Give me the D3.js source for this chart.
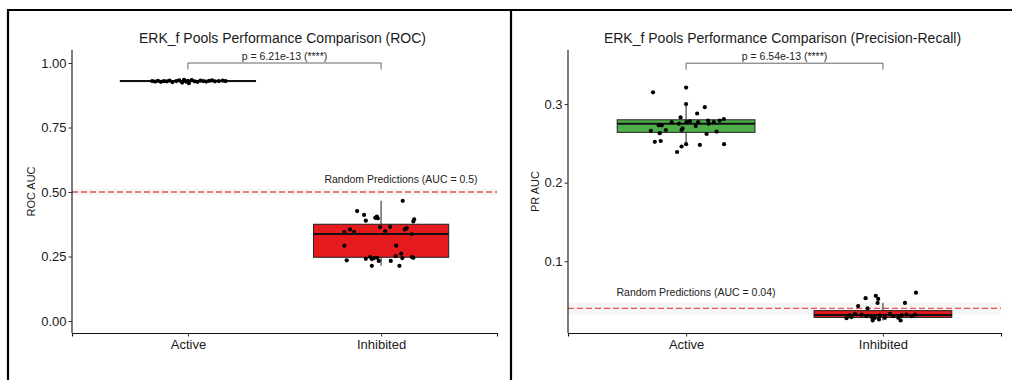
<!DOCTYPE html>
<html>
<head>
<meta charset="utf-8">
<script src="https://cdn.jsdelivr.net/npm/d3@7.9.0/dist/d3.min.js"></script>
<style>
  body { margin: 0; background: #fff; }
  svg { display: block; font-family: "Liberation Sans", Arial, sans-serif; }
</style>
</head>
<body>
<svg id="chart" width="1012" height="380"></svg>
<script>
const groups = ['Active', 'Inhibited'];
const groupColors = ['#4DAF4A', '#E41A1C'];

// ROC panel values
const rocTicks = [0, 0.25, 0.5, 0.75, 1];
const rocQ1 = [0.928, 0.247];
const rocMedian = [0.930, 0.337];
const rocQ3 = [0.932, 0.375];
const rocWhiskerLow = [0.922, 0.214];
const rocWhiskerHigh = [0.935, 0.466];
// [value, jitter offset in category units]
const rocActivePoints = [
  [0.930, -0.185], [0.928, -0.17], [0.931, -0.155], [0.927, -0.14], [0.930, -0.125],
  [0.929, -0.11], [0.932, -0.095], [0.926, -0.08], [0.930, -0.06], [0.933, -0.045],
  [0.924, -0.03], [0.935, -0.02], [0.928, -0.01], [0.931, 0.0], [0.922, 0.005],
  [0.934, 0.02], [0.929, 0.035], [0.927, 0.05], [0.932, 0.065], [0.930, 0.08],
  [0.928, 0.095], [0.931, 0.11], [0.933, 0.125], [0.929, 0.14], [0.930, 0.16],
  [0.932, 0.18], [0.930, 0.195]
];
const rocInhibitedPoints = [
  [0.426, -0.124], [0.411, -0.088], [0.389, -0.079], [0.400, -0.030], [0.405, -0.022],
  [0.398, -0.017], [0.466, 0.112], [0.394, 0.171], [0.386, 0.167], [0.345, -0.190],
  [0.355, -0.161], [0.345, -0.140], [0.364, -0.005], [0.348, 0.021], [0.365, 0.047],
  [0.355, 0.123], [0.360, 0.133], [0.337, 0.159], [0.292, -0.190], [0.292, 0.078],
  [0.235, -0.178], [0.241, -0.079], [0.248, -0.057], [0.240, -0.048], [0.244, -0.036],
  [0.245, -0.019], [0.233, -0.012], [0.214, -0.048], [0.233, 0.050], [0.252, 0.076],
  [0.261, 0.104], [0.244, 0.110], [0.214, 0.095], [0.248, 0.159], [0.245, 0.167]
];

// PR panel values
const prTicks = [0.1, 0.2, 0.3];
const prQ1 = [0.264, 0.0285];
const prMedian = [0.275, 0.0315];
const prQ3 = [0.280, 0.0372];
const prWhiskerLow = [0.248, 0.0247];
const prWhiskerHigh = [0.300, 0.047];
const prActivePoints = [
  [0.315, -0.168], [0.321, 0.0], [0.300, 0.0], [0.296, 0.095], [0.288, 0.056],
  [0.283, -0.028], [0.277, -0.073], [0.275, -0.036], [0.277, 0.002], [0.278, 0.019],
  [0.272, 0.049], [0.277, 0.061], [0.279, 0.112], [0.275, 0.115], [0.277, 0.141],
  [0.279, 0.171], [0.281, 0.192], [0.273, -0.139], [0.273, -0.124], [0.267, -0.103],
  [0.266, -0.179], [0.263, -0.134], [0.267, -0.023], [0.269, -0.018], [0.262, 0.104],
  [0.265, 0.155], [0.252, -0.159], [0.253, -0.129], [0.246, -0.023], [0.249, 0.0],
  [0.239, -0.046], [0.248, 0.070], [0.249, 0.193]
];
const prInhibitedPoints = [
  [0.053, -0.088], [0.056, -0.036], [0.052, -0.024], [0.047, -0.027], [0.043, -0.126],
  [0.040, -0.078], [0.047, 0.112], [0.060, 0.168], [0.0276, -0.185], [0.031, -0.170],
  [0.029, -0.160], [0.033, -0.142], [0.032, -0.108], [0.030, -0.083], [0.029, -0.057],
  [0.028, -0.041], [0.031, -0.015], [0.028, 0.010], [0.033, 0.036], [0.030, 0.052],
  [0.028, 0.078], [0.031, 0.095], [0.032, 0.120], [0.030, 0.146], [0.032, 0.163],
  [0.0247, -0.052], [0.0247, 0.090], [0.026, -0.020]
];

const svg = d3.select('#chart');

const panels = [
  {
    title: 'ERK_f Pools Performance Comparison (ROC)',
    yTitle: 'ROC AUC',
    left: 72, right: 497, top: 50, bottom: 333,
    domain: [-0.0465, 1.0504],
    ticks: rocTicks, tickFormat: d3.format('.2f'),
    q1: rocQ1, median: rocMedian, q3: rocQ3, lo: rocWhiskerLow, hi: rocWhiskerHigh,
    points: [rocActivePoints, rocInhibitedPoints],
    refLine: 0.5, refBand: 0.012,
    refLabel: 'Random Predictions (AUC = 0.5)', refLabelX: 401, refLabelDy: -9,
    bracketY: 1.0, pLabel: 'p = 6.21e-13 (****)',
    yTitleX: 35
  },
  {
    title: 'ERK_f Pools Performance Comparison (Precision-Recall)',
    yTitle: 'PR AUC',
    left: 568, right: 1001, top: 50, bottom: 333,
    domain: [0.0087, 0.3688],
    ticks: prTicks, tickFormat: d3.format('.1f'),
    q1: prQ1, median: prMedian, q3: prQ3, lo: prWhiskerLow, hi: prWhiskerHigh,
    points: [prActivePoints, prInhibitedPoints],
    refLine: 0.04, refBand: 0.0075,
    refLabel: 'Random Predictions (AUC = 0.04)', refLabelX: 696, refLabelDy: -12,
    bracketY: 0.352, pLabel: 'p = 6.54e-13 (****)',
    yTitleX: 539
  }
];

function drawPanel(p) {
  const g = svg.append('g');
  const x = d3.scalePoint().domain(groups).range([p.left, p.right]).padding(0.6);
  const y = d3.scaleLinear().domain(p.domain).range([p.bottom, p.top]);
  const step = x.step();
  const boxW = step * 0.7;

  // reference band and dashed line
  g.append('rect')
    .attr('x', p.left).attr('width', p.right - p.left)
    .attr('y', y(p.refLine + p.refBand))
    .attr('height', y(p.refLine - p.refBand) - y(p.refLine + p.refBand))
    .attr('fill', '#f5f5f5');
  g.append('line')
    .attr('x1', p.left).attr('x2', p.right)
    .attr('y1', y(p.refLine)).attr('y2', y(p.refLine))
    .attr('stroke', '#e03a3a').attr('stroke-opacity', 0.85)
    .attr('stroke-width', 1.3).attr('stroke-dasharray', '6,3');

  const boxData = groups.map((name, i) => ({
    name, color: groupColors[i],
    q1: p.q1[i], median: p.median[i], q3: p.q3[i], lo: p.lo[i], hi: p.hi[i]
  }));

  const box = g.selectAll('g.box').data(boxData).join('g').attr('class', 'box');
  box.append('line')
    .attr('x1', d => x(d.name)).attr('x2', d => x(d.name))
    .attr('y1', d => y(d.hi)).attr('y2', d => y(d.q3))
    .attr('stroke', '#222').attr('stroke-width', 1);
  box.append('line')
    .attr('x1', d => x(d.name)).attr('x2', d => x(d.name))
    .attr('y1', d => y(d.q1)).attr('y2', d => y(d.lo))
    .attr('stroke', '#222').attr('stroke-width', 1);
  box.append('rect')
    .attr('x', d => x(d.name) - boxW / 2).attr('width', boxW)
    .attr('y', d => y(d.q3)).attr('height', d => Math.max(0.5, y(d.q1) - y(d.q3)))
    .attr('fill', d => d.color).attr('stroke', '#222').attr('stroke-width', 1);
  box.append('line')
    .attr('x1', d => x(d.name) - boxW / 2).attr('x2', d => x(d.name) + boxW / 2)
    .attr('y1', d => y(d.median)).attr('y2', d => y(d.median))
    .attr('stroke', '#111').attr('stroke-width', 2);

  // jittered points
  groups.forEach((name, i) => {
    g.append('g').selectAll('circle')
      .data(p.points[i])
      .join('circle')
      .attr('cx', d => x(name) + d[1] * step)
      .attr('cy', d => y(d[0]))
      .attr('r', 2.1)
      .attr('fill', '#000');
  });

  // axes
  const yAxis = d3.axisLeft(y).tickValues(p.ticks).tickFormat(p.tickFormat).tickSizeOuter(0).tickSize(3.5);
  const ya = g.append('g').attr('transform', `translate(${p.left},0)`).call(yAxis);
  ya.select('.domain').attr('d', `M0,${p.top}V${p.bottom}`);
  const xAxis = d3.axisBottom(x).tickSizeOuter(0).tickSize(3.5);
  const xa = g.append('g').attr('transform', `translate(0,${p.bottom})`).call(xAxis);
  [ya, xa].forEach(a => {
    a.select('.domain').attr('stroke', '#111').attr('stroke-width', 1.1);
    a.selectAll('.tick line').attr('stroke', '#333').attr('stroke-width', 1);
  });
  ya.selectAll('.tick text').attr('font-size', 13).attr('fill', '#1a1a1a')
    .attr('font-family', '"Liberation Sans", Arial, sans-serif').attr('x', -5.5);
  xa.selectAll('.tick text').attr('font-size', 13).attr('fill', '#1a1a1a')
    .attr('font-family', '"Liberation Sans", Arial, sans-serif').attr('y', 5).attr('dy', '0.85em');

  // comparison bracket
  const by = y(p.bracketY);
  const x1 = x(groups[0]), x2 = x(groups[1]);
  g.append('path')
    .attr('d', `M${x1},${by + 6.5}V${by}H${x2}V${by + 6.5}`)
    .attr('fill', 'none').attr('stroke', '#555').attr('stroke-width', 0.9);
  g.append('text')
    .attr('x', (x1 + x2) / 2).attr('y', by - 3.5)
    .attr('text-anchor', 'middle').attr('font-size', 10.5).attr('fill', '#222')
    .text(p.pLabel);

  g.append('text')
    .attr('x', p.refLabelX).attr('y', y(p.refLine) + p.refLabelDy)
    .attr('text-anchor', 'middle').attr('font-size', 10.5).attr('fill', '#222')
    .text(p.refLabel);

  // titles
  g.append('text')
    .attr('x', (p.left + p.right) / 2 - 2).attr('y', 43)
    .attr('text-anchor', 'middle').attr('font-size', 14).attr('fill', '#1a1a1a')
    .text(p.title);
  g.append('text')
    .attr('transform', `translate(${p.yTitleX},${(p.top + p.bottom) / 2}) rotate(-90)`)
    .attr('text-anchor', 'middle').attr('font-size', 11).attr('fill', '#1a1a1a')
    .text(p.yTitle);
}

panels.forEach(drawPanel);

// frame lines around the panels
svg.append('path')
  .attr('d', 'M8,380V10H1012M511,10V380')
  .attr('fill', 'none').attr('stroke', '#000').attr('stroke-width', 2.2);
</script>
</body>
</html>
